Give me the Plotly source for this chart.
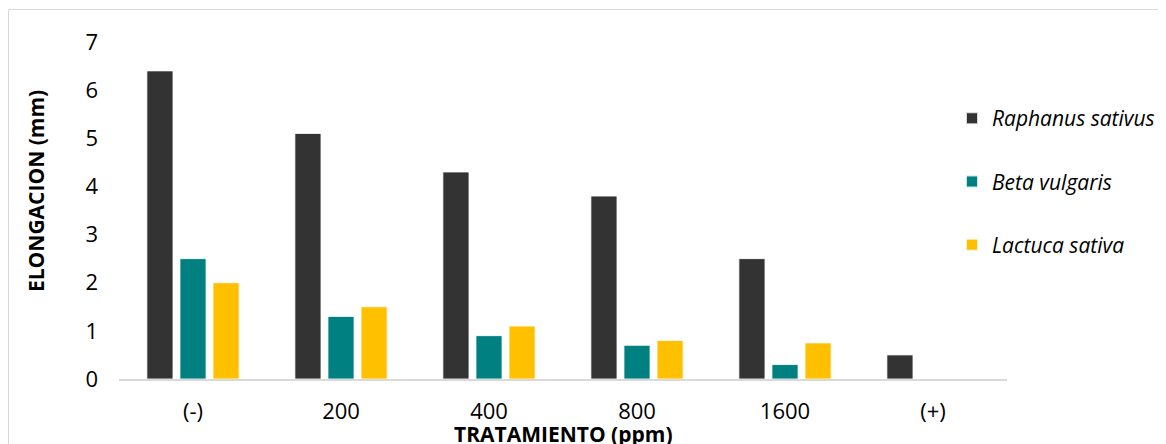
import plotly.graph_objects as go

categories = ["(-)", "200", "400", "800", "1600", "(+)"]
raphanus = [6.4, 5.1, 4.3, 3.8, 2.5, 0.5]
beta = [2.5, 1.3, 0.9, 0.7, 0.3, 0]
lactuca = [2.0, 1.5, 1.1, 0.8, 0.75, 0]

series = [
    ("Raphanus sativus", raphanus, "#333333"),
    ("Beta vulgaris", beta, "#008080"),
    ("Lactuca sativa", lactuca, "#FFC000"),
]

FONT = "Open Sans"
OFF = 8  # browser body margin

fig = go.Figure()
for i, (name, vals, color) in enumerate(series):
    fig.add_trace(go.Bar(
        x=categories, y=vals, name=name, legendgroup=f"g{i}",
        marker=dict(color=color, line=dict(color="rgba(255,255,255,0.8)", width=1)),
    ))

# page-pixel coordinates of the plot area
L, R, T, B = 119, 1007, 42, 379
W, H = 1166 - OFF, 444 - OFF

def px_x(px):
    return (px - L) / (R - L)

def px_y(py):
    return (B - py) / (B - T)

fig.update_layout(
    width=W, height=H,
    margin=dict(l=L - OFF, r=W - (R - OFF), t=T - OFF, b=H - (B - OFF), autoexpand=False),
    plot_bgcolor="white", paper_bgcolor="white",
    barmode="group", bargap=0.33, bargroupgap=0.21,
    font=dict(family=FONT, size=22, color="#000000"),
    showlegend=True,
    legend=dict(
        x=px_x(952), y=px_y(98), xanchor="left", yanchor="top",
        font=dict(family=FONT, size=21, style="italic"),
        tracegroupgap=33, itemsizing="constant",
        bgcolor="rgba(0,0,0,0)",
    ),
    xaxis=dict(
        showgrid=False, showline=True, linecolor="#d9d9d9", linewidth=2,
        ticks="", ticklabelstandoff=12, tickfont=dict(family=FONT, size=22),
    ),
    yaxis=dict(
        range=[0, 7], dtick=1, showgrid=False, showline=False, zeroline=False,
        ticks="", ticklabelstandoff=20, tickfont=dict(family=FONT, size=22),
    ),
    shapes=[dict(
        type="rect", xref="paper", yref="paper",
        x0=px_x(OFF + 0.5), x1=px_x(1250), y0=px_y(520), y1=px_y(9.5),
        line=dict(color="#d9d9d9", width=1), fillcolor="rgba(0,0,0,0)", layer="below",
    )],
    annotations=[
        dict(text="<b>TRATAMIENTO (ppm)</b>", xref="paper", yref="paper",
             x=px_x(563), y=px_y(434), xanchor="center", yanchor="middle",
             showarrow=False, font=dict(family=FONT, size=21)),
        dict(text="<b>ELONGACION (mm)</b>", xref="paper", yref="paper",
             x=px_x(36), y=px_y(191), xanchor="center", yanchor="middle",
             textangle=-90, showarrow=False, font=dict(family=FONT, size=21)),
    ],
)

fig.write_html("out.html")
